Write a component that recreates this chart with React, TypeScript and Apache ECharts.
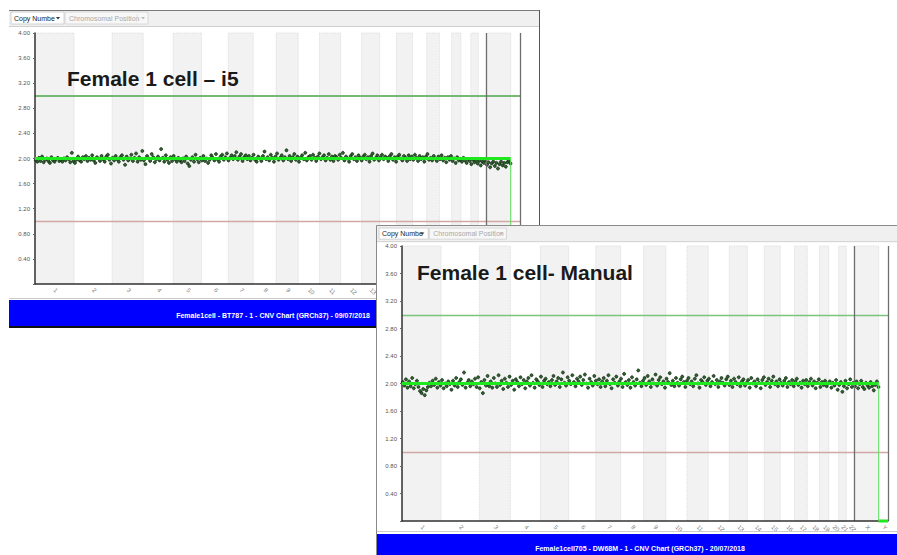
import React, { useEffect, useRef } from "react";
import * as echarts from "echarts";

// ---------- data ----------
const chromNames = ["1","2","3","4","5","6","7","8","9","10","11","12","13","14","15","16","17","18","19","20","21","22","X","Y"];
// GRCh37 chromosome lengths in Mb
const chromLengthsMb = [249.25,243.2,198.02,191.15,180.92,171.12,159.14,146.36,141.21,135.53,135.01,133.85,115.17,107.35,102.53,90.35,81.2,78.08,59.13,63.03,48.13,51.3,155.27,59.37];
const binSizeMb = 10;

const yMin = 0;
const yMax = 4;
const yInterval = 0.4;
const gainThreshold = 3;
const lossThreshold = 1;

// copy number per 10 Mb bin, chr1 -> chrX (panel "i5")
const i5CopyNumber = [
  1.97,1.95,2.01,1.96,2.03,1.94,1.98,2.00,1.96,1.93,2.02,1.97,1.95,1.99,2.01,1.96,
  1.98,1.95,2.00,1.97,2.02,1.99,1.94,2.09,1.96,1.93,1.98,2.03,1.97,1.95,2.02,1.99,
  2.04,1.96,2.01,1.98,2.05,1.97,1.93,2.02,2.00,1.96,2.04,1.99,1.95,2.03,2.06,1.98,
  1.92,2.01,1.97,2.04,1.99,1.95,2.02,2.05,1.98,1.90,2.03,1.97,2.00,2.06,1.96,2.01,
  2.08,1.95,2.02,1.98,2.12,1.97,1.91,2.04,2.00,1.96,2.07,2.02,1.94,1.99,2.03,1.97,
  2.15,2.01,1.95,2.05,1.98,1.93,2.02,1.96,2.04,1.99,1.95,2.01,1.97,1.94,2.00,1.96,
  2.03,1.92,1.88,1.98,2.02,1.95,2.06,1.99,1.94,2.01,1.97,2.04,1.96,2.00,1.93,1.98,
  2.05,2.01,1.97,2.07,1.99,1.95,2.03,2.06,1.98,2.02,2.08,1.97,2.01,2.05,1.99,2.04,
  2.10,1.98,2.03,2.07,1.96,2.02,2.05,1.99,2.04,1.97,2.01,2.06,1.98,1.95,2.03,2.00,
  1.96,2.04,2.11,1.99,2.02,1.97,2.06,2.01,1.95,2.03,2.08,1.98,2.01,2.05,1.97,2.02,
  2.13,1.99,2.04,1.96,2.02,2.07,1.98,2.03,1.95,2.01,2.05,1.99,2.09,1.97,2.02,2.04,
  1.98,2.06,2.01,1.96,2.03,2.08,1.99,2.02,2.05,1.97,2.01,2.07,1.98,2.03,1.96,2.04,
  2.02,1.98,2.06,2.01,2.09,1.97,2.03,2.00,1.95,2.04,2.07,1.99,2.02,1.96,2.05,2.01,
  1.97,2.03,2.06,1.99,2.02,1.95,2.04,2.08,1.98,2.01,2.05,1.97,2.02,2.06,1.99,2.03,
  2.01,1.96,2.04,2.07,1.98,2.02,1.95,2.03,2.06,2.00,1.97,2.04,2.01,1.96,2.05,1.99,
  2.03,1.98,2.06,2.01,1.96,2.04,1.99,2.02,1.95,2.03,2.07,1.98,2.01,1.97,2.04,2.00,
  1.96,2.03,1.99,2.05,1.97,2.01,1.94,2.02,1.98,2.04,1.96,2.00,1.93,2.02,1.97,1.99,
  1.95,2.01,1.97,1.93,1.99,1.96,1.91,1.98,1.94,1.97,1.92,1.96,1.89,1.95,1.93,1.97,
  1.90,1.94,1.86,1.92,1.95,1.88,1.93,1.84,1.91,1.95,1.89,1.93,1.87,1.94,1.96,1.92
];

// copy number per 10 Mb bin, chr1 -> chrX (panel "Manual")
const manualCopyNumber = [
  2.02,1.97,2.06,1.94,2.03,1.96,2.08,1.93,1.99,2.04,1.95,1.89,1.86,1.92,1.83,1.90,
  1.95,2.01,1.96,2.04,1.98,2.07,1.94,2.02,1.97,2.05,1.93,2.00,1.96,2.03,1.99,1.91,
  2.04,1.97,2.08,1.95,2.02,2.06,1.98,2.16,1.94,2.01,2.05,1.96,2.03,1.99,2.07,1.95,
  2.09,1.93,2.02,1.86,2.05,1.97,2.11,1.96,2.03,1.94,2.08,2.00,1.95,2.12,1.98,2.04,
  1.92,2.07,2.01,1.95,2.10,1.98,2.04,1.91,2.06,2.02,1.96,2.09,1.99,2.05,1.93,2.03,
  2.08,1.97,2.12,2.01,1.94,2.06,2.03,1.98,2.10,1.95,2.04,2.07,1.99,2.02,1.96,2.05,
  2.11,1.98,2.03,2.08,1.95,2.06,2.16,2.01,1.97,2.09,2.04,1.99,2.12,2.02,1.96,2.07,
  2.03,2.10,1.98,2.05,2.13,2.00,1.94,2.07,2.02,1.97,2.11,2.04,1.99,2.06,1.95,2.03,
  2.08,1.96,2.04,2.12,1.99,1.93,2.06,2.01,2.10,1.97,2.03,2.07,1.95,2.14,2.02,1.98,
  2.05,1.94,2.09,2.02,1.97,2.06,2.19,2.01,1.96,2.04,2.08,1.98,2.11,2.03,1.95,2.06,
  2.00,2.13,1.97,2.05,2.09,1.99,2.03,1.94,2.07,2.02,2.15,1.98,2.04,1.96,2.08,2.01,
  1.97,2.06,2.10,2.02,1.95,2.04,2.08,1.99,2.03,1.96,2.07,2.12,2.00,1.94,2.05,2.02,
  2.09,1.98,2.04,2.07,1.96,2.02,2.11,1.99,2.05,1.95,2.03,2.08,2.01,1.97,2.06,2.10,
  1.98,2.04,1.95,2.07,2.02,1.99,2.09,1.96,2.03,2.06,1.97,2.01,2.05,1.94,2.08,2.00,
  2.03,1.96,2.06,2.01,1.93,2.05,2.09,1.98,2.02,2.07,1.95,2.04,2.10,1.99,2.03,1.96,
  2.06,2.01,1.97,2.04,2.08,1.95,2.02,1.99,2.05,1.96,2.03,2.07,1.98,2.01,1.94,2.04,
  1.99,2.05,1.96,2.02,2.07,1.97,2.03,1.93,2.01,2.06,1.95,2.02,1.98,2.04,1.96,2.00,
  2.03,1.94,2.01,1.97,2.05,1.91,1.98,2.02,1.88,1.96,2.04,1.93,1.99,2.06,1.95,2.01,
  1.96,2.03,1.93,1.99,2.04,1.95,1.92,2.01,1.97,1.94,2.02,1.96,1.90,1.98,2.03,1.95
];

// segmentation calls (same for both samples)
const i5Segments = [
  { startChrom: "1", endChrom: "X", copyNumber: 2 },
  { startChrom: "Y", endChrom: "Y", copyNumber: 0 },
];
const manualSegments = [
  { startChrom: "1", endChrom: "X", copyNumber: 2 },
  { startChrom: "Y", endChrom: "Y", copyNumber: 0 },
];

const i5Title = "Female 1 cell \u2013 i5";
const manualTitle = "Female 1 cell- Manual";
const i5Footer = "Female1cell - BT787 - 1 - CNV Chart (GRCh37) - 09/07/2018";
const manualFooter = "Female1cell705 - DW68M - 1 - CNV Chart (GRCh37) - 20/07/2018";
const toolbarDropdown = "Copy Numbe";
const toolbarDisabled = "Chromosomal Position";

// ---------- derived ----------
const chromStarts: number[] = [];
chromLengthsMb.reduce((acc, len, i) => {
  chromStarts[i] = acc;
  return acc + len;
}, 0);
const genomeEnd = chromLengthsMb.reduce((a, b) => a + b, 0);
const chromCenters = chromNames.map((_, i) => chromStarts[i] + chromLengthsMb[i] / 2);
const chromIndex = (n: string) => chromNames.indexOf(n);
const sexStart = chromStarts[chromIndex("X")];

const FONT = '"Liberation Sans", Arial, sans-serif';

function buildPanel(gi: number, values: number[], segments: any[], zb: number, gainWidth: number, gainColor: string) {
  const points = values.map((v, i) => [i * binSizeMb + binSizeMb / 2, v]);
  const bands = chromNames
    .map((_, i) => (i % 2 === 0 ? [{ xAxis: chromStarts[i] }, { xAxis: chromStarts[i] + chromLengthsMb[i] }] : null))
    .filter(Boolean);
  const series: any[] = [
    {
      type: "scatter",
      xAxisIndex: gi,
      yAxisIndex: gi,
      z: zb + 2,
      symbolSize: 3,
      itemStyle: { color: "#2c6a2c", borderColor: "#0c1a0c", borderWidth: 0.7, opacity: 1 },
      data: points,
      silent: true,
      markArea: {
        silent: true,
        z: zb + 1,
        itemStyle: { color: "#f2f2f2", borderColor: "#d4d4d4", borderWidth: 0.8, borderType: "dotted" },
        data: bands,
      },
      markLine: {
        silent: true,
        z: zb + 5,
        symbol: ["none", "none"],
        label: { show: false },
        data: [
          { yAxis: gainThreshold, lineStyle: { color: gainColor, width: gainWidth, type: "solid" } },
          { yAxis: lossThreshold, lineStyle: { color: "#d4a7a7", width: 1.4, type: "solid" } },
          { xAxis: sexStart, lineStyle: { color: "#6e6e6e", width: 1.3, type: "solid" } },
          { xAxis: genomeEnd, lineStyle: { color: "#6e6e6e", width: 1.3, type: "solid" } },
        ],
      },
    },
  ];
  segments.forEach((s) => {
    const a = chromIndex(s.startChrom);
    const b = chromIndex(s.endChrom);
    series.push({
      type: "line",
      xAxisIndex: gi,
      yAxisIndex: gi,
      z: zb + 8,
      symbol: "none",
      silent: true,
      clip: false,
      lineStyle: { color: "#1fe81f", width: 3 },
      data: [
        [chromStarts[a], s.copyNumber],
        [chromStarts[b] + chromLengthsMb[b], s.copyNumber],
      ],
    });
  });
  for (let k = 0; k < segments.length - 1; k++) {
    const cur = segments[k];
    const nxt = segments[k + 1];
    const e = chromIndex(cur.endChrom);
    const x = chromStarts[e] + chromLengthsMb[e];
    series.push({
      type: "line",
      xAxisIndex: gi,
      yAxisIndex: gi,
      z: zb + 8,
      symbol: "none",
      silent: true,
      clip: false,
      lineStyle: { color: "#5ee05e", width: 1 },
      data: [
        [x, cur.copyNumber],
        [x, nxt.copyNumber],
      ],
    });
  }
  return series;
}

function xAxisFor(gi: number, z: number) {
  return {
    type: "value",
    gridIndex: gi,
    min: 0,
    max: genomeEnd,
    z,
    axisLine: { show: true, onZero: false, lineStyle: { color: "#333", width: 1.5 } },
    axisTick: { show: false },
    splitLine: { show: false },
    axisLabel: {
      customValues: chromCenters,
      rotate: -45,
      fontSize: 6,
      color: "#777",
      fontFamily: FONT,
      margin: 5,
      formatter: (v: number) => {
        const idx = chromCenters.findIndex((c) => Math.abs(c - v) < 0.01);
        return idx >= 0 ? chromNames[idx] : "";
      },
    },
  };
}

function yAxisFor(gi: number, z: number) {
  return {
    type: "value",
    gridIndex: gi,
    min: yMin,
    max: yMax,
    interval: yInterval,
    z,
    axisLine: { show: true, lineStyle: { color: "#333", width: 1.5 } },
    axisTick: { show: true, length: 2, lineStyle: { color: "#666" } },
    splitLine: { show: false },
    axisLabel: {
      fontSize: 6,
      color: "#555",
      fontFamily: FONT,
      margin: 5,
      formatter: (v: number) => (Math.abs(v) < 1e-9 ? "" : v.toFixed(2)),
    },
  };
}

function toolbar(x: number, y: number, w: number, z: number, scale: number) {
  const h = 12 * scale;
  const d1w = 53 * scale;
  const d2w = 83 * scale;
  const d2x = x + d1w + 3;
  return [
    { type: "rect", z, shape: { x, y, width: w, height: h + 4 }, style: { fill: "#f0f0f0" } },
    { type: "line", z, shape: { x1: x, y1: y + h + 4.5, x2: x + w, y2: y + h + 4.5 }, style: { stroke: "#cfcfcf", lineWidth: 1 } },
    { type: "rect", z, shape: { x: x + 2, y: y + 2, width: d1w, height: h }, style: { fill: "#ffffff", stroke: "#c8c8c8", lineWidth: 0.8 } },
    { type: "text", z, x: x + 5, y: y + 2 + h / 2, style: { text: toolbarDropdown, fill: "#222", font: `7px ${FONT}`, textVerticalAlign: "middle" } },
    { type: "polygon", z, shape: { points: [[x + d1w - 6, y + 1 + h / 2], [x + d1w - 2, y + 1 + h / 2], [x + d1w - 4, y + 3.5 + h / 2]] }, style: { fill: "#333" } },
    { type: "rect", z, shape: { x: d2x, y: y + 2, width: d2w, height: h }, style: { fill: "#f7f7f7", stroke: "#d0d0d0", lineWidth: 0.8 } },
    { type: "text", z, x: d2x + 4, y: y + 2 + h / 2, style: { text: toolbarDisabled, fill: "#a8a8a8", font: `7px ${FONT}`, textVerticalAlign: "middle" } },
    { type: "line", z, shape: { x1: d2x + d2w - 11, y1: y + 4, x2: d2x + d2w - 11, y2: y + h }, style: { stroke: "#dddddd", lineWidth: 0.8 } },
    { type: "polygon", z, shape: { points: [[d2x + d2w - 7, y + 1 + h / 2], [d2x + d2w - 3, y + 1 + h / 2], [d2x + d2w - 5, y + 3.5 + h / 2]] }, style: { fill: "#bbb" } },
  ];
}

export default function App() {
  const ref = useRef<HTMLDivElement>(null);
  useEffect(() => {
    if (!ref.current) return;
    const chart = echarts.init(ref.current, null, { renderer: "svg" });
    const Z2 = 20;
    const graphics: any[] = [
      // ---- panel 1 frame ----
      ...toolbar(9, 10, 530, 3, 1),
      { type: "line", z: 3, shape: { x1: 9, y1: 10.5, x2: 539, y2: 10.5 }, style: { stroke: "#7a7a7a", lineWidth: 1 } },
      { type: "line", z: 3, shape: { x1: 539.5, y1: 10, x2: 539.5, y2: 327 }, style: { stroke: "#555", lineWidth: 1 } },
      { type: "line", z: 3, shape: { x1: 9, y1: 298.5, x2: 539, y2: 298.5 }, style: { stroke: "#cccccc", lineWidth: 1 } },
      { type: "rect", z: 3, shape: { x: 9, y: 300, width: 530, height: 26 }, style: { fill: "#0000ff" } },
      { type: "line", z: 3, shape: { x1: 9, y1: 327, x2: 539, y2: 327 }, style: { stroke: "#111", lineWidth: 2 } },
      { type: "text", z: 3, x: 273, y: 315, style: { text: i5Footer, fill: "#ffffff", font: `bold 7px ${FONT}`, textAlign: "center", textVerticalAlign: "middle" } },
      { type: "text", z: 4, x: 67, y: 78, style: { text: i5Title, fill: "#1a1a1a", font: `bold 21px ${FONT}`, textVerticalAlign: "middle" } },
      // ---- panel 2 frame ----
      { type: "rect", z: Z2, shape: { x: 376.5, y: 225.5, width: 530, height: 340 }, style: { fill: "#ffffff", stroke: "#8a8a8a", lineWidth: 1 } },
      ...toolbar(377, 226, 520, Z2 + 8, 0.93),
      { type: "line", z: Z2 + 8, shape: { x1: 377, y1: 531.5, x2: 897, y2: 531.5 }, style: { stroke: "#cccccc", lineWidth: 1 } },
      { type: "rect", z: Z2 + 8, shape: { x: 377, y: 534, width: 520, height: 21 }, style: { fill: "#0000ff" } },
      { type: "text", z: Z2 + 8, x: 640, y: 548, style: { text: manualFooter, fill: "#ffffff", font: `bold 7px ${FONT}`, textAlign: "center", textVerticalAlign: "middle" } },
      { type: "text", z: Z2 + 8, x: 417, y: 272, style: { text: manualTitle, fill: "#1a1a1a", font: `bold 21px ${FONT}`, textVerticalAlign: "middle" } },
    ];
    const option: any = {
      animation: false,
      backgroundColor: "#ffffff",
      grid: [
        { left: 35, top: 33, width: 485, height: 251, containLabel: false },
        { left: 402, top: 246, width: 486, height: 275, containLabel: false },
      ],
      xAxis: [xAxisFor(0, 6), xAxisFor(1, Z2 + 6)],
      yAxis: [yAxisFor(0, 6), yAxisFor(1, Z2 + 6)],
      series: [
        ...buildPanel(0, i5CopyNumber, i5Segments, 0, 1.8, "#74b974"),
        ...buildPanel(1, manualCopyNumber, manualSegments, Z2, 1.3, "#7cc47c"),
      ],
      graphic: { elements: graphics },
    };
    chart.setOption(option);
    return () => chart.dispose();
  }, []);
  return <div ref={ref} style={{ position: "absolute", left: 0, top: 0, width: 897, height: 555 }} />;
}
